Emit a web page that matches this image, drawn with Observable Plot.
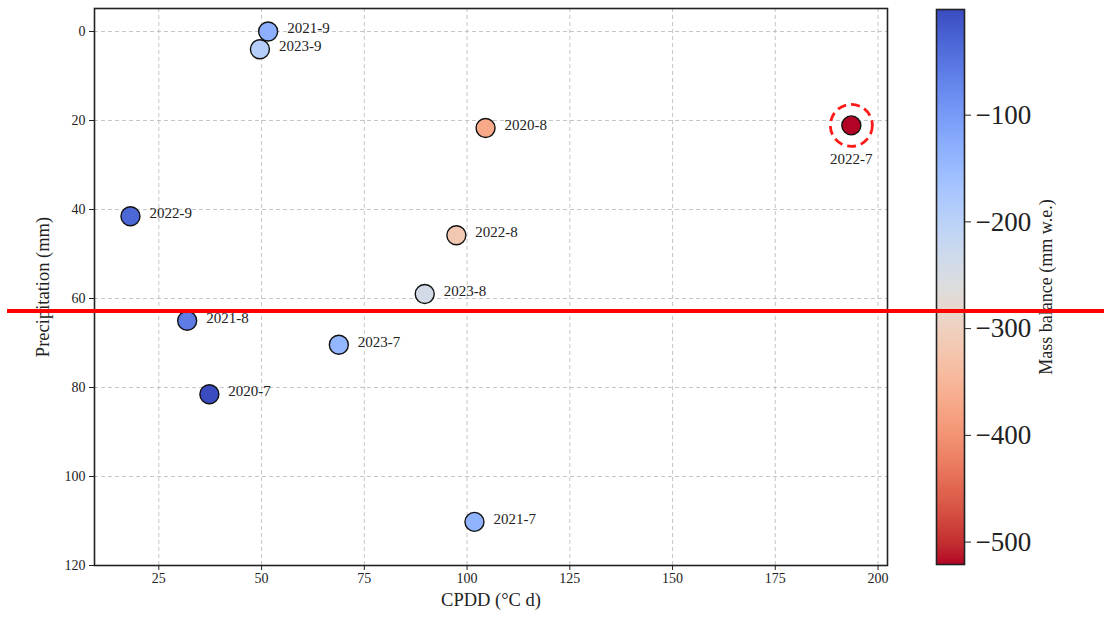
<!DOCTYPE html>
<html><head><meta charset="utf-8">
<script src="https://cdn.jsdelivr.net/npm/d3@7"></script>
<script src="https://cdn.jsdelivr.net/npm/@observablehq/plot@0.6"></script>
<style>
body{margin:0;background:#fff;}
#wrap{position:relative;width:1104px;height:618px;overflow:hidden;font-family:"Liberation Serif","Times New Roman",serif;}
#main{position:absolute;left:0;top:0;}
#cbar{position:absolute;left:900px;top:0;}
#redline{position:absolute;left:7px;width:1097px;height:4px;background:#ff0000;z-index:5;}
</style></head><body><div id="wrap"><div id="main"></div><div id="cbar"></div><div id="redline"></div></div>
<script>
// ---- data ----
const labels = ["2020-7","2020-8","2021-7","2021-8","2021-9","2022-7","2022-8","2022-9","2023-7","2023-8","2023-9"];
const cpdd = [37.3,104.5,101.8,31.9,51.6,193.5,97.4,18.1,68.8,89.7,49.6];
const precip = [81.5,21.7,110.2,65.0,0.0,21.1,45.8,41.5,70.4,59.0,4.0];
const massBalance = [-1,-370,-136,-58,-131,-521,-318,-32,-141,-240,-193];
const highlighted = ["2022-7"];
const refPrecip = 62.9;
const xTicks = [25,50,75,100,125,150,175,200];
const yTicks = [0,20,40,60,80,100,120];
const cTicks = [-100,-200,-300,-400,-500];

// coolwarm colormap stops (blue -> red)
const coolwarm = ["#3b4cc0","#445acc","#4d68d7","#5775e1","#6282ea","#6c8ef1","#779af7","#82a5fb","#8db0fe","#98b9ff","#a3c2ff","#aec9fd","#b8d0f9","#c2d5f4","#ccd9ee","#d5dbe6","#dddddd","#e5d8d1","#ecd3c5","#f1ccb8","#f5c4ac","#f7bb9f","#f7b193","#f7a686","#f49a7b","#f18d6f","#ec7f63","#e57058","#de604d","#d55042","#cb3e38","#c0282f","#b40426"];
const cw = d3.piecewise(d3.interpolateRgb, coolwarm);

const data = labels.map((label, i) => ({label, cpdd: cpdd[i], precip: precip[i], mb: massBalance[i]}));
const hi = data.filter(d => highlighted.includes(d.label));
const lo = data.filter(d => !highlighted.includes(d.label));
const font = '"Liberation Serif","Times New Roman",serif';
const colorScale = {type: "linear", domain: d3.extent(massBalance), interpolate: t => cw(1 - t)};
const minus = d => (d < 0 ? "\u2212" + Math.abs(d) : String(d));

const main = Plot.plot({
  width: 900, height: 618,
  marginLeft: 94, marginRight: 13, marginTop: 8, marginBottom: 53,
  style: {fontFamily: font, fontSize: "14px", color: "#222", background: "transparent", overflow: "visible"},
  x: {domain: [9.35, 202.3], label: null},
  y: {domain: [-5.17, 120], reverse: true, label: null},
  color: colorScale,
  marks: [
    Plot.gridX(xTicks, {stroke: "#b8b8b8", strokeOpacity: 0.8, strokeDasharray: "4,3"}),
    Plot.gridY(yTicks, {stroke: "#b8b8b8", strokeOpacity: 0.8, strokeDasharray: "4,3"}),
    Plot.axisX(xTicks, {tickSize: 5, tickPadding: 3, fontSize: "14px", stroke: "#222"}),
    Plot.axisY(yTicks, {tickSize: 5, tickPadding: 4, fontSize: "14px", stroke: "#222"}),
    Plot.frame({stroke: "#222", strokeWidth: 1.6}),
    Plot.dot(data, {x: "cpdd", y: "precip", r: 9.5, fill: "mb", stroke: "#111", strokeWidth: 1.4}),
    Plot.dot(hi, {x: "cpdd", y: "precip", r: 21, fill: "none", stroke: "#ff1a1a", strokeWidth: 2.8, strokeDasharray: "9,5"}),
    Plot.text(lo, {x: "cpdd", y: "precip", text: "label", dx: 19, dy: -3, textAnchor: "start", fontSize: 15, fill: "#222"}),
    Plot.text(hi, {x: "cpdd", y: "precip", text: "label", dy: 34, fontSize: 15, fill: "#222"}),
    Plot.text(["CPDD (°C d)"], {frameAnchor: "bottom", dy: 40, fontSize: 18.5, fill: "#222"}),
    Plot.text(["Precipitation (mm)"], {frameAnchor: "left", textAnchor: "middle", dx: -51, rotate: -90, fontSize: 18.5, fill: "#222"})
  ]
});
document.getElementById("main").appendChild(main);

const cb = Plot.plot({
  width: 204, height: 618,
  marginLeft: 36, marginRight: 140, marginTop: 9, marginBottom: 54,
  style: {fontFamily: font, fontSize: "27px", color: "#222", background: "transparent", overflow: "visible"},
  x: {domain: [0, 1], axis: null},
  y: {domain: d3.extent(massBalance), label: null},
  color: colorScale,
  marks: [
    Plot.raster({x1: 0, x2: 1, y1: d3.min(massBalance), y2: d3.max(massBalance), width: 1, height: 520, fill: (x, y) => y, imageRendering: "auto"}),
    Plot.axisY(cTicks, {anchor: "right", tickSize: 6, tickPadding: 5, tickFormat: minus, fontSize: "27px", stroke: "#222"}),
    Plot.frame({stroke: "#222", strokeWidth: 1.6}),
    Plot.text(["Mass balance (mm w.e.)"], {frameAnchor: "right", textAnchor: "middle", dx: 82, rotate: -90, fontSize: 18, fill: "#222"})
  ]
});
document.getElementById("cbar").appendChild(cb);

const yScale = main.scale("y");
document.getElementById("redline").style.top = (yScale.apply(refPrecip) - 2) + "px";
</script>
</body></html>
